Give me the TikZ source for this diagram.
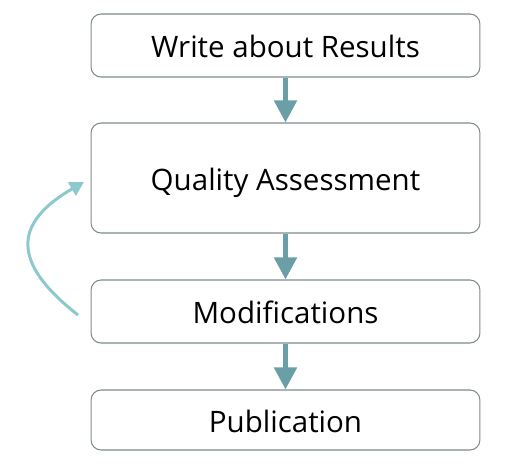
\documentclass[tikz,border=0pt]{standalone}
\usepackage{fontspec}
\setmainfont{Open Sans}
\usetikzlibrary{arrows.meta,positioning}
\definecolor{stepline}{HTML}{7F8A8C}
\definecolor{steparrow}{HTML}{6A9FA8}
\definecolor{looparrow}{HTML}{8EC8CF}
\begin{document}
\begin{tikzpicture}[x=0.02cm,y=-0.02cm,%
  % common options for the boxes:
  block/.style = {draw=stepline, rounded corners=0.2cm, line width=0.6pt,
              minimum width=7.78cm, align=center, inner sep=0,
              text height=14.2pt, text depth=0pt,
              font=\fontsize{16.8}{19}\selectfont},
  % common options for the arrows:
  flow/.style = {steparrow, line width=0.1cm,
              -{Triangle[width=0.44cm,length=0.44cm]}},
  back/.style = {looparrow, line width=0.06cm,
              -{Triangle[width=0.3cm,length=0.28cm]}}]
\useasboundingbox (0,0) rectangle (512,471);
\node[block,minimum height=1.26cm] (write) at (285.5,45.5) {Write about Results};
\node[block,minimum height=2.2cm] (quality) at (285.5,178) {Quality Assessment};
\node[block,minimum height=1.26cm] (mod) at (285.5,311.5) {Modifications};
\node[block,minimum height=1.2cm] (pub) at (285.5,420) {Publication};
\coordinate (loopA) at (78,315);
\coordinate (loopB) at (84,182);
\draw[flow] (write.south) to (quality.north);
\draw[flow] (quality.south) to (mod.north);
\draw[flow] (mod.south) to (pub.north);
\draw[back] (loopA) to[out=142,in=210,looseness=1.6] (loopB);
\end{tikzpicture}
\end{document}
